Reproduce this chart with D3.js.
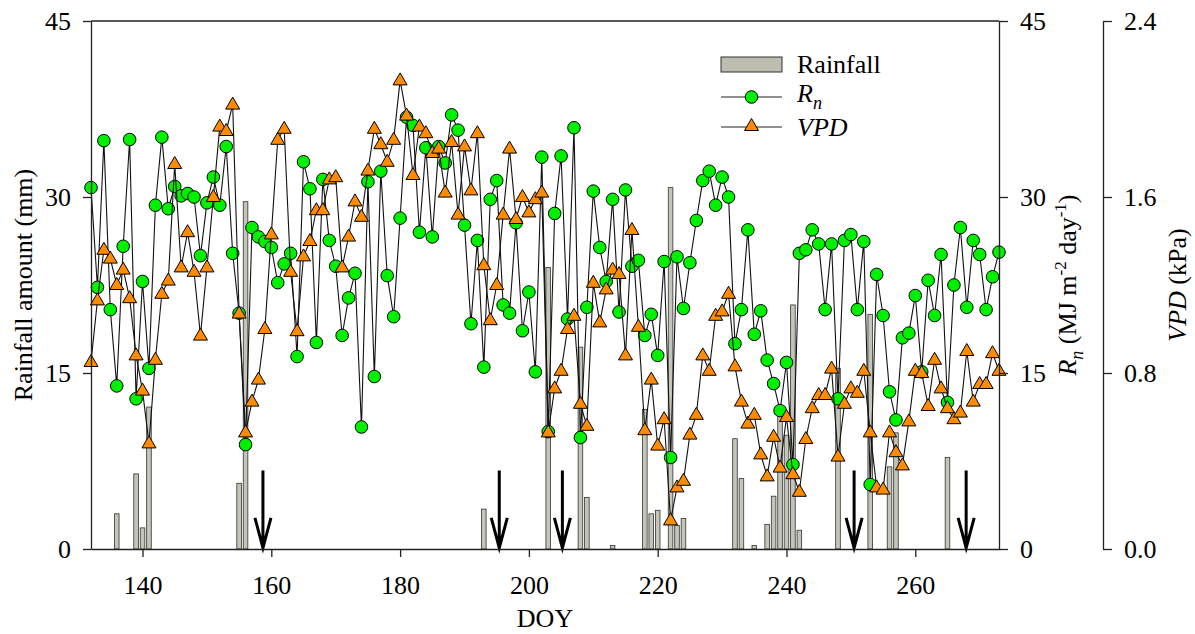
<!DOCTYPE html>
<html>
<head>
<meta charset="utf-8">
<script src="https://cdn.jsdelivr.net/npm/d3@7"></script>
<style>
  body { margin: 0; background: #fff; }
  svg { display: block; }
  svg text { font-family: "Liberation Serif", "Times New Roman", Times, serif; fill: #000; }
  .axis text { font-size: 26px; }
  .axis path, .axis line { stroke: #222; stroke-width: 1.3; }
</style>
</head>
<body>
<svg width="1195" height="634"></svg>
<script>
// DOY 132..273, one value per day
const days = d3.range(132, 274);

// net radiation, MJ m-2 day-1
const rn = [
  30.8, 22.3, 34.8, 20.4, 13.9, 25.8, 34.9, 12.8, 22.8, 15.4,
  29.3, 35.1, 29.0, 30.9, 30.1, 30.3, 30.0, 25.0, 29.5, 31.7,
  29.3, 34.3, 25.2, 20.1, 8.9, 27.4, 26.6, 26.2, 25.7, 22.7,
  24.3, 25.2, 16.4, 33.0, 30.7, 17.6, 31.5, 26.3, 24.1, 18.2,
  21.4, 23.5, 10.4, 31.3, 14.7, 32.2, 23.3, 19.8, 28.2, 36.8,
  36.1, 27.0, 34.2, 26.6, 34.3, 32.9, 37.0, 35.7, 27.6, 19.2,
  26.3, 15.5, 29.8, 31.4, 20.8, 20.1, 27.8, 18.6, 21.9, 15.1,
  33.4, 10.0, 28.6, 33.5, 19.6, 35.9, 9.5, 20.6, 30.5, 25.7,
  22.8, 29.8, 20.2, 30.6, 24.1, 24.6, 18.2, 20.0, 16.5, 24.5,
  7.8, 24.9, 20.5, 24.4, 28.0, 31.4, 32.2, 29.3, 31.7, 30.0,
  17.5, 20.4, 27.2, 18.3, 20.3, 16.1, 14.1, 11.8, 15.9, 7.2,
  25.2, 25.5, 27.2, 26.0, 20.4, 26.0, 12.8, 26.3, 26.8, 20.4,
  26.2, 5.5, 23.4, 19.9, 13.4, 11.0, 18.0, 18.4, 21.6, 15.1,
  22.9, 19.9, 25.1, 12.5, 22.5, 27.4, 20.6, 26.3, 25.1, 20.4,
  23.2, 25.3
];

// vapour pressure deficit, kPa
const vpd = [
  0.85, 1.13, 1.36, 1.32, 1.20, 1.27, 1.14, 0.88, 0.72, 0.48,
  0.86, 1.16, 1.22, 1.75, 1.28, 1.44, 1.26, 0.97, 1.28, 1.60,
  1.92, 1.90, 2.02, 1.07, 0.53, 0.67, 0.77, 1.00, 1.43, 1.86,
  1.91, 1.26, 0.99, 1.33, 1.40, 1.54, 1.54, 1.68, 1.69, 1.28,
  1.42, 1.58, 1.51, 1.72, 1.91, 1.84, 1.76, 1.86, 2.13, 1.97,
  1.70, 1.92, 1.89, 1.80, 1.82, 1.62, 1.85, 1.52, 1.83, 1.63,
  1.89, 1.29, 1.04, 1.20, 1.52, 1.82, 1.50, 1.60, 1.53, 1.59,
  1.62, 0.53, 0.73, 0.81, 1.00, 1.06, 0.66, 0.56, 1.21, 1.03,
  1.18, 1.27, 1.25, 0.88, 1.45, 1.01, 0.54, 0.77, 0.47, 0.59,
  0.13, 0.28, 0.31, 0.52, 0.61, 0.88, 0.81, 1.06, 1.08, 1.16,
  0.83, 0.67, 0.57, 0.61, 0.43, 0.33, 0.51, 0.37, 0.60, 0.34,
  0.26, 0.50, 0.64, 0.70, 0.70, 0.82, 0.42, 0.66, 0.73, 0.71,
  0.81, 0.53, 0.28, 0.27, 0.53, 0.44, 0.38, 0.58, 0.81, 0.80,
  0.65, 0.86, 0.73, 0.64, 0.59, 0.62, 0.90, 0.67, 0.75, 0.75,
  0.89, 0.81
];

// rainfall events
const rainDays = [136, 139, 140, 141, 155, 156, 193, 203, 208, 209, 213, 218, 219, 220, 222, 223,
  224, 232, 233, 235, 237, 238, 239, 240, 241, 242, 248, 253, 256, 257, 265];
const rainMm = [3.0, 6.4, 1.8, 12.1, 5.6, 29.6, 3.4, 24.0, 17.2, 4.4, 0.3, 11.9, 3.0, 3.3, 30.8, 2.0,
  2.6, 9.4, 6.0, 0.3, 2.1, 4.5, 11.5, 9.7, 20.8, 1.6, 15.4, 20.0, 7.0, 9.9, 7.8];

// irrigation arrows
const arrowDays = [158.7, 195.4, 205.2, 250.5, 267.9];

const xTicks = [140, 160, 180, 200, 220, 240, 260];
const rainTicks = [0, 15, 30, 45];
const rnTicks = [0, 15, 30, 45];
const vpdTicks = [0, 0.8, 1.6, 2.4];

const FONT = '"Liberation Serif", "Times New Roman", Times, serif';
const svg = d3.select('svg');
const plotL = 91, plotR = 999, plotT = 21, plotB = 549;

const x = d3.scaleLinear().domain([132, 273]).range([plotL, plotR]);
const yRain = d3.scaleLinear().domain([0, 45]).range([plotB, plotT]);
const yRn = d3.scaleLinear().domain([0, 45]).range([plotB, plotT]);
const yVpd = d3.scaleLinear().domain([0, 2.4]).range([plotB, plotT]);

// rainfall bars
svg.append('g').selectAll('rect')
  .data(rainDays.map((d, i) => ({ day: d, mm: rainMm[i] })))
  .enter()
  .append('rect')
  .attr('x', d => x(d.day) - 2.3)
  .attr('width', 4.6)
  .attr('y', d => yRain(d.mm))
  .attr('height', d => yRain(0) - yRain(d.mm))
  .attr('fill', '#c4c4b8')
  .attr('stroke', '#333')
  .attr('stroke-width', 0.8);

// arrows
const arrows = svg.append('g');
arrowDays.forEach(d => {
  const ax = x(d), ay1 = yRain(6.7), ay2 = yRain(0.1);
  arrows.append('path')
    .attr('d', `M${ax},${ay1} L${ax},${ay2} M${ax - 8},${ay2 - 30} L${ax},${ay2} L${ax + 8},${ay2 - 30}`)
    .attr('fill', 'none')
    .attr('stroke', '#000')
    .attr('stroke-width', 3);
});

const triPath = 'M0,-7.5 L7,4.5 L-7,4.5 Z';

// Rn line + circles
svg.append('path')
  .datum(days.map((d, i) => [d, rn[i]]))
  .attr('d', d3.line().x(d => x(d[0])).y(d => yRn(d[1])))
  .attr('fill', 'none')
  .attr('stroke', '#111')
  .attr('stroke-width', 1.1);

svg.append('g').selectAll('circle')
  .data(days.map((d, i) => [d, rn[i]]))
  .enter()
  .append('circle')
  .attr('cx', d => x(d[0]))
  .attr('cy', d => yRn(d[1]))
  .attr('r', 6.3)
  .attr('fill', '#00f000')
  .attr('stroke', '#000')
  .attr('stroke-width', 1);

// VPD line + triangles
svg.append('path')
  .datum(days.map((d, i) => [d, vpd[i]]))
  .attr('d', d3.line().x(d => x(d[0])).y(d => yVpd(d[1])))
  .attr('fill', 'none')
  .attr('stroke', '#111')
  .attr('stroke-width', 1.1);

svg.append('g').selectAll('path')
  .data(days.map((d, i) => [d, vpd[i]]))
  .enter()
  .append('path')
  .attr('d', triPath)
  .attr('transform', d => `translate(${x(d[0])},${yVpd(d[1])})`)
  .attr('fill', '#ff8c00')
  .attr('stroke', '#000')
  .attr('stroke-width', 1);

// axes
function styleAxis(g) {
  g.attr('font-family', FONT).attr('font-size', 26);
}
svg.append('g').attr('class', 'axis')
  .attr('transform', `translate(0,${plotB})`)
  .call(d3.axisBottom(x).tickValues(xTicks).tickSize(8).tickSizeOuter(0).tickPadding(19).tickFormat(d3.format('d')))
  .call(styleAxis);

svg.append('g').attr('class', 'axis')
  .attr('transform', `translate(${plotL},0)`)
  .call(d3.axisLeft(yRain).tickValues(rainTicks).tickSize(8).tickSizeOuter(0).tickPadding(12))
  .call(styleAxis);

svg.append('g').attr('class', 'axis')
  .attr('transform', `translate(${plotR},0)`)
  .call(d3.axisRight(yRn).tickValues(rnTicks).tickSize(9).tickSizeOuter(0).tickPadding(12))
  .call(styleAxis);

svg.append('g').attr('class', 'axis')
  .attr('transform', 'translate(1103,0)')
  .call(d3.axisRight(yVpd).tickValues(vpdTicks).tickSize(9).tickSizeOuter(0).tickPadding(12).tickFormat(d3.format('.1f')))
  .call(styleAxis);

// top frame
svg.append('line')
  .attr('x1', plotL).attr('x2', plotR).attr('y1', plotT).attr('y2', plotT)
  .attr('stroke', '#222').attr('stroke-width', 1.3);

// titles
svg.append('text')
  .attr('transform', 'translate(32,285) rotate(-90)')
  .attr('text-anchor', 'middle')
  .attr('font-family', FONT)
  .attr('font-size', 26)
  .text('Rainfall amount (mm)');

svg.append('text')
  .attr('x', (plotL + plotR) / 2).attr('y', 627)
  .attr('text-anchor', 'middle')
  .attr('font-family', FONT)
  .attr('font-size', 26)
  .text('DOY');

const rnTitle = svg.append('text')
  .attr('transform', 'translate(1076,285) rotate(-90)')
  .attr('text-anchor', 'middle')
  .attr('font-family', FONT)
  .attr('font-size', 26);
rnTitle.append('tspan').attr('font-style', 'italic').text('R');
rnTitle.append('tspan').attr('font-style', 'italic').attr('font-size', 18).attr('dy', 7).text('n');
rnTitle.append('tspan').attr('dy', -7).text(' (MJ m');
rnTitle.append('tspan').attr('font-size', 17).attr('dy', -10).text('-2');
rnTitle.append('tspan').attr('dy', 10).text(' day');
rnTitle.append('tspan').attr('font-size', 17).attr('dy', -10).text('-1');
rnTitle.append('tspan').attr('dy', 10).text(')');

const vpdTitle = svg.append('text')
  .attr('transform', 'translate(1186,285) rotate(-90)')
  .attr('text-anchor', 'middle')
  .attr('font-family', FONT)
  .attr('font-size', 26);
vpdTitle.append('tspan').attr('font-style', 'italic').text('VPD');
vpdTitle.append('tspan').text(' (kPa)');

// legend
const lg = svg.append('g').attr('font-family', FONT);
lg.append('rect')
  .attr('x', 721).attr('y', 57).attr('width', 61).attr('height', 15)
  .attr('fill', '#bdbdb0').attr('stroke', '#333').attr('stroke-width', 1);
lg.append('text').attr('x', 797).attr('y', 73).attr('font-size', 26).text('Rainfall');

lg.append('line').attr('x1', 721).attr('x2', 782).attr('y1', 97).attr('y2', 97)
  .attr('stroke', '#222').attr('stroke-width', 1.1);
lg.append('circle').attr('cx', 751.5).attr('cy', 97).attr('r', 6.3)
  .attr('fill', '#00f000').attr('stroke', '#000');
const rnLab = lg.append('text').attr('x', 797).attr('y', 102).attr('font-size', 26).attr('font-style', 'italic');
rnLab.append('tspan').text('R');
rnLab.append('tspan').attr('font-size', 18).attr('dy', 7).text('n');

lg.append('line').attr('x1', 721).attr('x2', 782).attr('y1', 127).attr('y2', 127)
  .attr('stroke', '#222').attr('stroke-width', 1.1);
lg.append('path').attr('d', triPath).attr('transform', 'translate(751.5,126)')
  .attr('fill', '#ff8c00').attr('stroke', '#000');
lg.append('text').attr('x', 797).attr('y', 136).attr('font-size', 26).attr('font-style', 'italic').text('VPD');
</script>
</body>
</html>
